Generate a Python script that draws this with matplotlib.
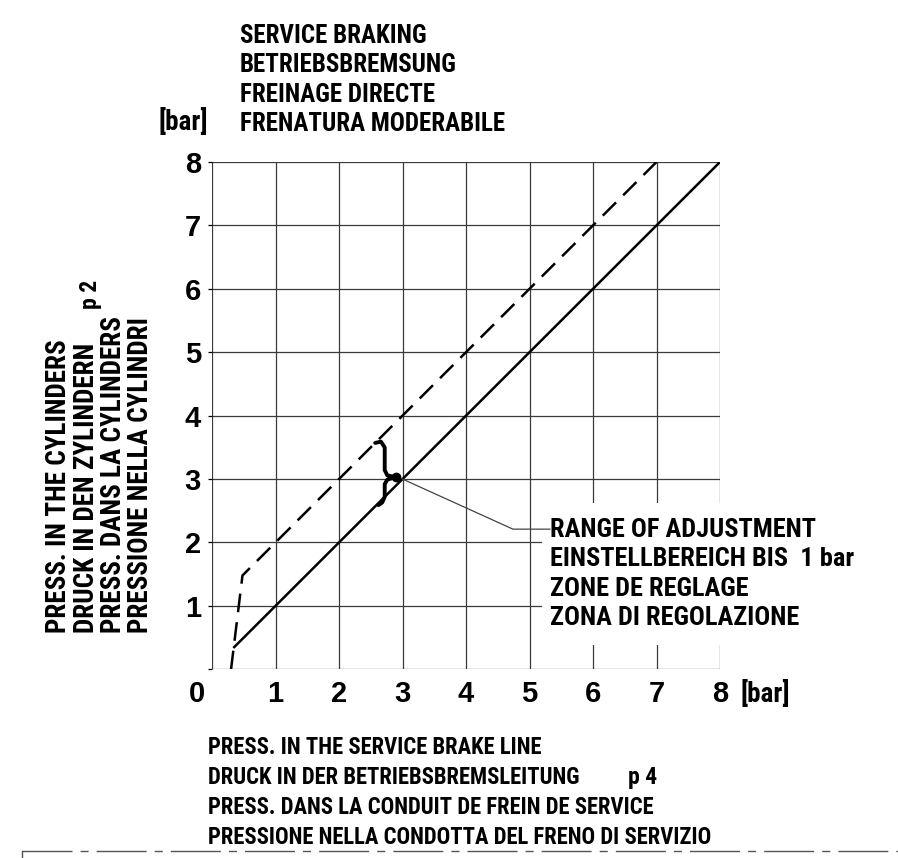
import matplotlib
matplotlib.use('Agg')
import matplotlib.pyplot as plt
from matplotlib.lines import Line2D
from matplotlib.patches import Rectangle

plt.rcParams['font.family'] = ['Roboto Condensed', 'DejaVu Sans']
plt.rcParams['font.weight'] = 'bold'
digit_font = ['Liberation Sans', 'DejaVu Sans']

# chart data (bar)
p4_solid = [0.35, 8.0]
p2_solid = [0.35, 8.0]
p4_dashed = [0.3, 0.48, 7.0]
p2_dashed = [0.0, 1.48, 8.0]

# curly bracket = range of adjustment (about 1 bar)
brace_x = [2.57, 2.66, 2.72, 2.72, 2.76, 2.88, 2.76, 2.72, 2.72, 2.68, 2.62]
brace_y = [3.57, 3.59, 3.50, 3.14, 3.06, 3.03, 2.99, 2.92, 2.72, 2.63, 2.59]
leader_x = [3.0, 4.74, 5.32]
leader_y = [3.0, 2.21, 2.21]

ticks = [0, 1, 2, 3, 4, 5, 6, 7, 8]
tick_labels = ['', '1', '2', '3', '4', '5', '6', '7', '8']

title_lines = ['SERVICE BRAKING', 'BETRIEBSBREMSUNG', 'FREINAGE DIRECTE', 'FRENATURA MODERABILE']
xlabel_lines = ['PRESS. IN THE SERVICE BRAKE LINE', 'DRUCK IN DER BETRIEBSBREMSLEITUNG',
                'PRESS. DANS LA CONDUIT DE FREIN DE SERVICE',
                'PRESSIONE NELLA CONDOTTA DEL FRENO DI SERVIZIO']
ylabel_lines = ['PRESS. IN THE CYLINDERS', 'DRUCK IN DEN ZYLINDERN',
                'PRESS. DANS LA CYLINDERS', 'PRESSIONE NELLA CYLINDRI']
note_lines = ['RANGE OF ADJUSTMENT', 'EINSTELLBEREICH BIS  1 bar',
              'ZONE DE REGLAGE', 'ZONA DI REGOLAZIONE']

W, H = 898, 858


def fx(px):
    return px / W


def fy(py):
    return 1 - py / H


fig = plt.figure(figsize=(W / 100, H / 100), dpi=100)
ax = fig.add_axes([fx(212), fy(669.3), 508 / W, 507.3 / H])
ax.set_xlim(0, 8)
ax.set_ylim(0, 8)
for s in ax.spines.values():
    s.set_visible(False)

ax.set_xticks(ticks)
ax.set_xticklabels(tick_labels, family=digit_font, fontsize=21)
ax.set_yticks(ticks)
ax.set_yticklabels(tick_labels, family=digit_font, fontsize=21)
ax.tick_params(axis='x', length=0, pad=8)
ax.tick_params(axis='y', length=3, width=0.9, pad=5)
ax.grid(True, color='#3a3a3a', linewidth=0.9)

# white patch where the note sits over the grid
ax.add_patch(Rectangle((5.2, 0.38), 6.0, 2.24, facecolor='white', edgecolor='none',
                       zorder=2, clip_on=False))

ax.plot(p4_solid, p2_solid, color='black', linewidth=1.8, zorder=3)
ax.plot(p4_dashed, p2_dashed, color='black', linewidth=1.8, linestyle=(0, (7.5, 4)), zorder=3)
ax.plot(brace_x, brace_y, color='black', linewidth=2.8, solid_capstyle='round', zorder=3)
ax.plot([2.9], [3.03], 'o', color='black', markersize=6, zorder=3)
ax.plot(leader_x, leader_y, color='#444444', linewidth=0.9, zorder=4, clip_on=False)

# title
for i, t in enumerate(title_lines):
    fig.text(fx(240), fy(43 + i * 29.3), t, fontsize=18, va='baseline', ha='left')
fig.text(fx(158), fy(130), '[bar]', fontsize=19.5, va='baseline', ha='left')

# x label
for i, t in enumerate(xlabel_lines):
    fig.text(fx(208), fy(754 + i * 30), t, fontsize=16.3, va='baseline', ha='left')
fig.text(fx(628), fy(784), 'p 4', fontsize=17, va='baseline', ha='left')
fig.text(fx(740), fy(702), '[bar]', fontsize=19.5, va='baseline', ha='left')
fig.text(fx(197), fy(702), '0', family=digit_font, fontsize=21, va='baseline', ha='center')

# y label
for i, t in enumerate(ylabel_lines):
    fig.text(fx(66 + i * 27.5), fy(633), t, fontsize=19.5, rotation=90,
             rotation_mode='anchor', va='baseline', ha='left')
fig.text(fx(97), fy(309), 'p 2', fontsize=17, rotation=90,
         rotation_mode='anchor', va='baseline', ha='left')

# note
for i, t in enumerate(note_lines):
    fig.text(fx(550), fy(537 + i * 29.4), t, fontsize=19, va='baseline', ha='left', zorder=5)

# drawing frame line at the bottom
fig.add_artist(Line2D([fx(22), fx(898)], [fy(851), fy(851)], color='#555555', linewidth=1,
                      linestyle=(0, (36, 5.8, 5.8, 5.8))))
fig.add_artist(Line2D([fx(22), fx(22)], [fy(851), fy(858)], color='#555555', linewidth=1))

fig.savefig('out.png', dpi=100)
